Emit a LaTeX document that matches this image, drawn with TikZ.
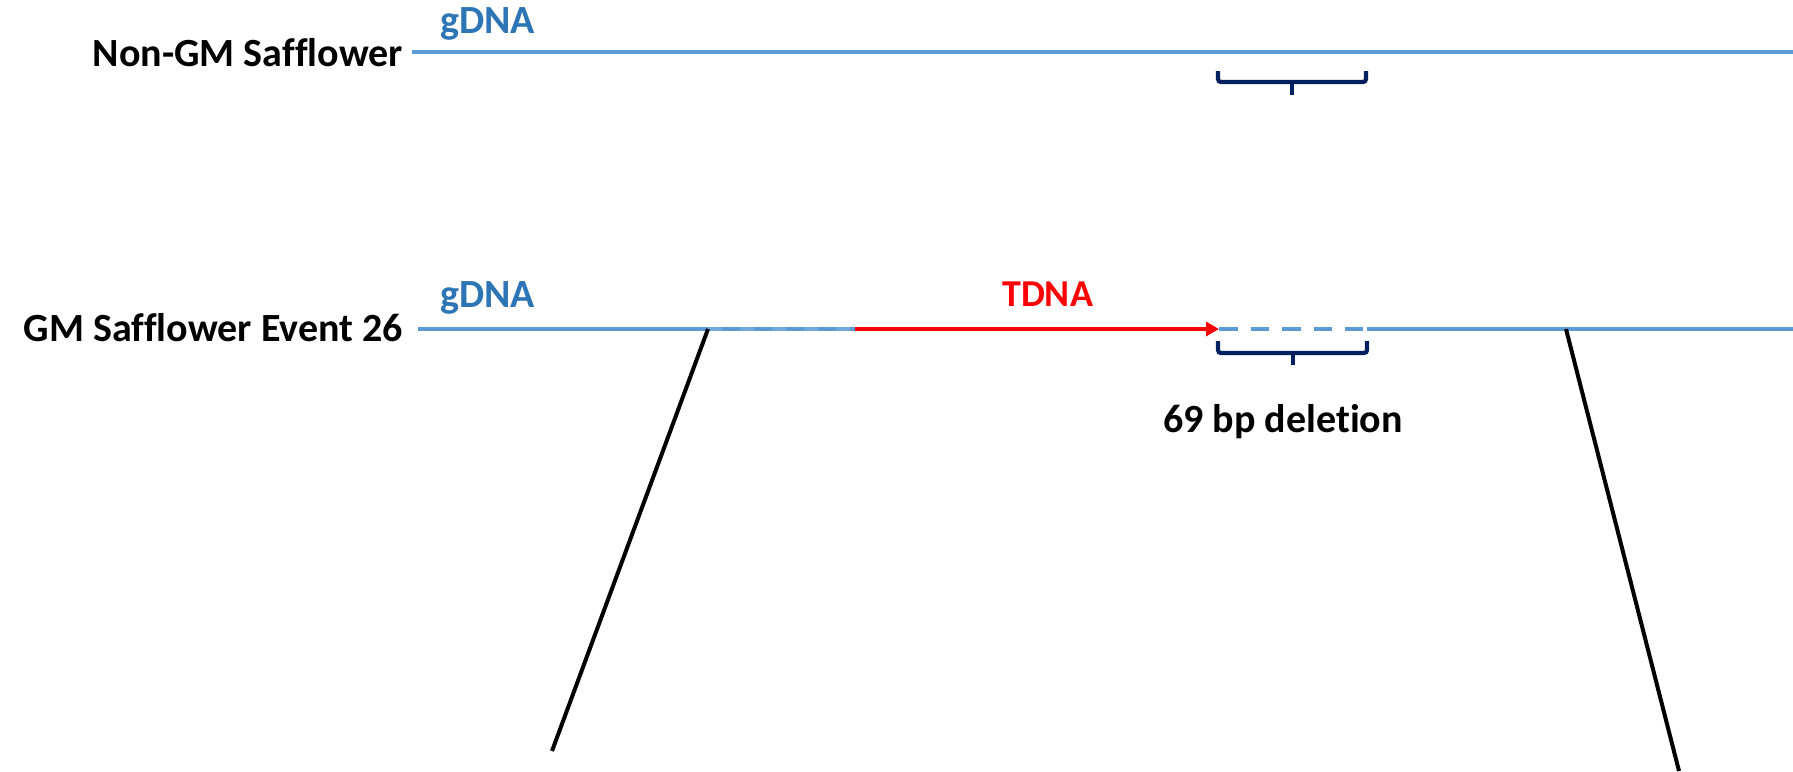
\documentclass[tikz,border=0pt]{standalone}
\usepackage{fontspec}
\setmainfont{Carlito}[Ligatures=CommonOff]
\usetikzlibrary{arrows.meta}
\definecolor{dnablue}{HTML}{5B9BD5}
\definecolor{dnatext}{HTML}{2E75B6}
\definecolor{bracecol}{HTML}{002060}
\definecolor{lightdash}{HTML}{72A9DD}
\begin{document}
\begin{tikzpicture}[x=1pt,y=-1pt,
  lbl/.style={inner sep=0pt, font=\fontsize{40}{48}\selectfont\bfseries},
  dnaline/.style={draw=dnablue, line width=4pt},
  tdnaline/.style={draw=red, line width=4pt, -{Triangle[length=13pt,width=14pt]}},
  delline/.style={draw=dnablue, line width=4pt, dash pattern=on 18.5pt off 13pt},
  faintdash/.style={draw=lightdash, line width=4pt, dash pattern=on 14pt off 18pt},
  bracket/.style={draw=bracecol, line width=4.2pt, rounded corners=3pt},
  diag/.style={draw=black, line width=4pt}]
\useasboundingbox (0,0) rectangle (1793,771);
% labels
\node[lbl, anchor=base east] (lab1) at (403,66) {Non-GM Safflower};
\node[lbl, anchor=base east] (lab2) at (403,341) {GM Safflower Event 26};
\node[lbl, anchor=base west, text=dnatext] (g1) at (440,33) {gDNA};
\node[lbl, anchor=base west, text=dnatext] (g2) at (440,307) {gDNA};
\node[lbl, anchor=base west, text=red, font=\fontsize{38}{46}\selectfont\bfseries] (t1) at (1002,306) {TDNA};
\node[lbl, anchor=base west] (del) at (1163,432) {69 bp deletion};
% coordinates
\coordinate (a1) at (412,52);
\coordinate (a2) at (1793,52);
\coordinate (b1) at (418,329);
\coordinate (bj) at (708,329);
\coordinate (b2) at (855,329);
\coordinate (b3) at (1219,329);
\coordinate (b4) at (1363,329);
\coordinate (b5) at (1367,329);
\coordinate (b6) at (1793,329);
\coordinate (bk) at (1566,329);
\coordinate (dl) at (552,751);
\coordinate (dr) at (1679,771);
% top line
\path[dnaline] (a1) -- (a2);
% top bracket
\coordinate (tb1) at (1218,71);
\coordinate (tb2) at (1218,82);
\coordinate (tb3) at (1366,82);
\coordinate (tb4) at (1366,71);
\coordinate (tm1) at (1292,82);
\coordinate (tm2) at (1292,95);
\path[bracket] (tb1) -- (tb2) -- (tb3) -- (tb4);
\path[draw=bracecol, line width=4.2pt] (tm1) -- (tm2);
% bottom line
\path[dnaline] (b1) -- (b2);
\path[faintdash] (bj) -- (b2);
\path[tdnaline] (b2) -- (b3);
\path[delline] (b3) -- (b4);
\path[dnaline] (b5) -- (b6);
% bottom bracket
\coordinate (bb1) at (1218,341);
\coordinate (bb2) at (1218,353);
\coordinate (bb3) at (1367,353);
\coordinate (bb4) at (1367,341);
\coordinate (bm1) at (1293,353);
\coordinate (bm2) at (1293,365);
\path[bracket] (bb1) -- (bb2) -- (bb3) -- (bb4);
\path[draw=bracecol, line width=4.2pt] (bm1) -- (bm2);
% diagonals
\path[diag] (bj) -- (dl);
\path[diag] (bk) -- (dr);
\end{tikzpicture}
\end{document}
